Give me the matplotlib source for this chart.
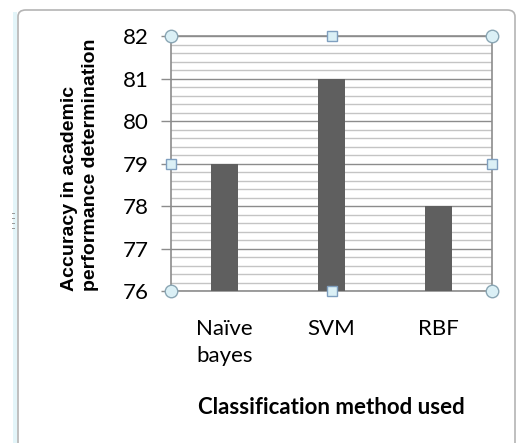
import matplotlib.pyplot as plt
from matplotlib.patches import FancyBboxPatch, Rectangle
import numpy as np

categories = ['Naïve\nbayes', 'SVM', 'RBF']
accuracy = [79, 81, 78]
y_ticks = [76, 77, 78, 79, 80, 81, 82]

W, H = 517, 443
fig = plt.figure(figsize=(W / 100, H / 100), dpi=100)

# outer chart frame (Excel chart border, cut off at the bottom)
fig.patches.append(Rectangle((13 / W, 0), 4 / W, 1 - 12 / H, transform=fig.transFigure,
                             facecolor='#e3f5f9', edgecolor='none', zorder=-2))
fig.patches.append(FancyBboxPatch((18 / W, -20 / H), 497 / W, (H - 10 + 20) / H,
                                  boxstyle='round,pad=0,rounding_size=0.015',
                                  transform=fig.transFigure, facecolor='white',
                                  edgecolor='#b4b4b4', linewidth=1.2, zorder=-1))
for yy in [214, 219, 224, 229]:
    fig.patches.append(Rectangle((12 / W, 1 - yy / H), 3 / W, 1.5 / H, transform=fig.transFigure,
                                 facecolor='#9a9a9a', edgecolor='none', zorder=-1))

ax = fig.add_axes([171 / W, 1 - 291 / H, 321 / W, 255 / H])
x = np.arange(len(categories))
ax.bar(x, accuracy, width=0.25, color='#5f5f5f', zorder=3)

ax.set_xlim(-0.5, len(categories) - 0.5)
ax.set_ylim(76, 82)
ax.set_yticks(y_ticks)
ax.set_yticks(np.arange(76, 82.01, 0.2), minor=True)
ax.grid(axis='y', which='major', color='#8c8c8c', linewidth=1.0, zorder=1)
ax.grid(axis='y', which='minor', color='#c4c4c4', linewidth=1.0, zorder=1)
ax.tick_params(axis='y', which='major', length=7, width=1, color='#8c8c8c', pad=9,
               labelsize=16)
ax.tick_params(axis='y', which='minor', length=0)
for lab in ax.get_yticklabels():
    lab.set_fontfamily('Lato')

ax.set_xticks(x)
ax.set_xticklabels(categories, fontfamily='Lato', fontsize=16, linespacing=1.45)
ax.tick_params(axis='x', length=0, pad=20)

for s in ax.spines.values():
    s.set_color('#8c8c8c')
    s.set_linewidth(1.2)

ax.set_xlabel('Classification method used', fontfamily='Lato', fontweight='bold',
              fontsize=16, labelpad=22)

fig.text(80 / W, 1 - 291 / H, 'Accuracy in academic\nperformance determination',
         rotation=90, ha='center', va='bottom', multialignment='left',
         fontfamily='Liberation Sans', fontweight='bold', fontsize=14, linespacing=1.3)

# selection handles
hx_c = [0, 1, 0, 1]
hy_c = [0, 0, 1, 1]
ax.plot(hx_c, hy_c, 'o', ms=9, mfc='#dbf0f6', mec='#8aa6b4', mew=1,
        transform=ax.transAxes, clip_on=False, zorder=5)
hx_s = [0.5, 0.5, 0, 1]
hy_s = [0, 1, 0.5, 0.5]
ax.plot(hx_s, hy_s, 's', ms=6.5, mfc='#dbf0f6', mec='#7f9fbf', mew=1,
        transform=ax.transAxes, clip_on=False, zorder=5)

fig.savefig('out.png', dpi=100)
